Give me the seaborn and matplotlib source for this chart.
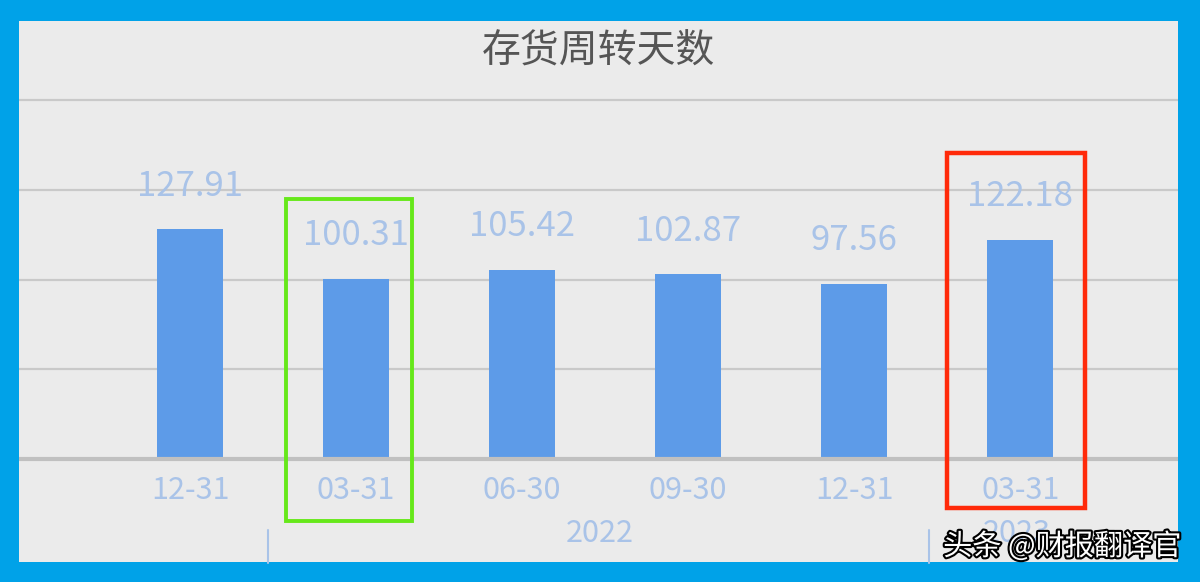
import matplotlib
matplotlib.use("Agg")
import matplotlib.pyplot as plt
import matplotlib.patheffects as pe
from matplotlib.patches import Rectangle
import seaborn as sns
import pandas as pd

# ---- data ----
periods = ["2021-12-31", "2022-03-31", "2022-06-30", "2022-09-30", "2022-12-31", "2023-03-31"]
tick_labels = ["12-31", "03-31", "06-30", "09-30", "12-31", "03-31"]
values = [127.91, 100.31, 105.42, 102.87, 97.56, 122.18]
years = ["2022", "2023"]
title = "存货周转天数"
watermark = "头条 @财报翻译官"

sns.set_theme(style="white")
plt.rcParams["font.family"] = ["Noto Sans CJK SC", "DejaVu Sans"]

W, H = 1200, 582
fig = plt.figure(figsize=(W / 100, H / 100), dpi=100)
fig.patch.set_facecolor("#00a2e8")

left, right, top, bottom = 19, 1178, 21, 562
ax = fig.add_axes([left / W, (H - bottom) / H, (right - left) / W, (bottom - top) / H])
ax.set_facecolor("#ebebeb")

df = pd.DataFrame({"period": periods, "value": values})
sns.barplot(data=df, x="period", y="value", color="#5d9be8", saturation=1,
            width=0.4, ax=ax, zorder=3, linewidth=0, edgecolor="none")

# scales: 0 at px 459, 200 at px 100
ppu = (459 - 100) / 200.0
ax.set_ylim(-(bottom - 459) / ppu, 200 + (100 - top) / ppu)
ax.set_xlim(-1.03, 5.95)

for g in [50, 100, 150, 200]:
    ax.axhline(g, color="#c9c9c9", lw=1.6, zorder=1)
ax.axhline(0, color="#c0c0c0", lw=3, zorder=4)

for s in ax.spines.values():
    s.set_visible(False)
ax.set_xticks([])
ax.set_yticks([])
ax.set_xlabel("")
ax.set_ylabel("")

lab_col = "#a9c3e8"
for i, v in enumerate(values):
    ax.annotate(f"{v:.2f}", (i, v), xytext=(0, 31), textcoords="offset points",
                ha="center", va="center", fontsize=25, color=lab_col, zorder=5)
    ax.text(i, -17.8, tick_labels[i], ha="center", va="center",
            fontsize=22, color=lab_col)

# year groups
ax.text(2.47, -41.5, years[0], ha="center", va="center", fontsize=22, color=lab_col)
ax.text(4.98, -41.5, years[1], ha="center", va="center", fontsize=22, color=lab_col)
for xs in [0.47, 4.45]:
    ax.plot([xs, xs], [-39.5, -58], color="#a9c3e8", lw=1.5, clip_on=False)

# highlight boxes
ax.add_patch(Rectangle((0.578, -34.5), 1.337 - 0.578, 144.8 + 34.5, fill=False,
                       ec="#66e81a", lw=2.8, clip_on=False, zorder=6))
ax.add_patch(Rectangle((4.56, -27.3), 5.39 - 4.56, 170.5 + 27.3, fill=False,
                       ec="#ff2a0a", lw=3.2, clip_on=False, zorder=6))

fig.text(598 / W, 1 - 52 / H, title, ha="center", va="center", fontsize=28, color="#555555")

fig.text(1181 / W, 1 - 547 / H, watermark, ha="right", va="center", fontsize=21,
         color="white", zorder=10,
         path_effects=[pe.withStroke(linewidth=3, foreground="black")])

fig.savefig("out.png", dpi=100, facecolor=fig.get_facecolor())
